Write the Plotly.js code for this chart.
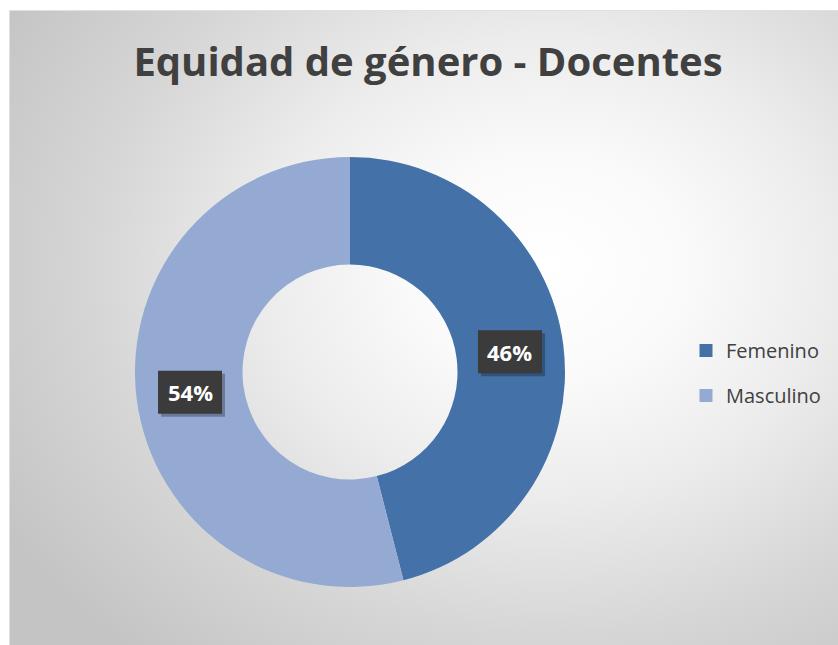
<!DOCTYPE html>
<html>
<head>
<meta charset="utf-8">
<script src="https://cdn.plot.ly/plotly-3.0.1.min.js"></script>
<style>
  html, body { margin: 0; padding: 0; background: #ffffff; }
  #wrap { position: relative; width: 838px; height: 645px; overflow: hidden; }
  #bg { position: absolute; left: 9px; top: 10px; width: 840px; height: 640px;
        border-left: 1px solid #e0e0e0; border-top: 1px solid #e0e0e0;
        background: radial-gradient(ellipse 75% 80% at 64% 40%, #ffffff 0%, #fafafa 22%, #ececec 45%, #d6d6d6 72%, #c4c4c4 100%); }
  #chart { position: absolute; left: 0; top: 0; width: 838px; height: 645px; }
</style>
</head>
<body>
<div id="wrap"><div id="bg"></div><div id="chart"></div></div>
<script>
const categories = ["Femenino", "Masculino"];
const values = [46, 54];
const labelsText = ["46%", "54%"];
const colors = ["#4472a8", "#94aad2"];

const W = 838, H = 645;
const cx = 350, cy = 372, R = 215, hole = 0.5;
const dom = { x: [(cx - R) / W, (cx + R) / W], y: [1 - (cy + R) / H, 1 - (cy - R) / H] };

const total = values.reduce((a, b) => a + b, 0);
const traces = [{
  type: "pie",
  labels: categories,
  values: values,
  sort: false,
  direction: "clockwise",
  rotation: 0,
  hole: hole,
  marker: { colors: colors, line: { width: 0 } },
  textinfo: "none",
  hoverinfo: "label+percent",
  showlegend: false,
  domain: dom
}];
categories.forEach((c, i) => {
  traces.push({
    type: "scatter", mode: "markers", x: [null], y: [null], name: c,
    marker: { symbol: "square", size: 13, color: colors[i] },
    legendgroup: "g" + i, showlegend: true, hoverinfo: "skip"
  });
});

const annotations = [];
const shapes = [];
let acc = 0;
const rMid = R * (1 + hole) / 2;
const boxW = 64, boxH = 43;
values.forEach((v, i) => {
  const mid = (acc + v / 2) / total * 2 * Math.PI;
  acc += v;
  const px = cx + rMid * Math.sin(mid);
  const py = cy - rMid * Math.cos(mid);
  const xa = px / W, ya = 1 - py / H;
  shapes.push({ type: "rect", xref: "paper", yref: "paper", xsizemode: "pixel", ysizemode: "pixel",
    xanchor: xa, yanchor: ya, x0: -boxW / 2 + 3, x1: boxW / 2 + 3, y0: -boxH / 2 - 3, y1: boxH / 2 - 3,
    fillcolor: "rgba(0,0,0,0.28)", line: { width: 0 }, layer: "above" });
  shapes.push({ type: "rect", xref: "paper", yref: "paper", xsizemode: "pixel", ysizemode: "pixel",
    xanchor: xa, yanchor: ya, x0: -boxW / 2, x1: boxW / 2, y0: -boxH / 2, y1: boxH / 2,
    fillcolor: "#3b3b3b", line: { width: 0 }, layer: "above" });
  annotations.push({ x: xa, y: ya, xref: "paper", yref: "paper", showarrow: false,
    text: labelsText[i], xanchor: "center", yanchor: "middle",
    font: { family: "Open Sans, sans-serif", size: 22, color: "#ffffff", weight: "bold" } });
});

const layout = {
  width: W, height: H,
  margin: { l: 0, r: 0, t: 0, b: 0 },
  paper_bgcolor: "rgba(0,0,0,0)",
  plot_bgcolor: "rgba(0,0,0,0)",
  title: { text: "<b>Equidad de género - Docentes</b>", x: 428 / W, xanchor: "center", y: 1 - 62 / H, yanchor: "middle",
           xref: "paper", yref: "container",
           font: { family: "Open Sans, sans-serif", size: 40, color: "#404040" } },
  xaxis: { visible: false, domain: [0.999, 1] },
  yaxis: { visible: false, domain: [0.999, 1] },
  showlegend: true,
  legend: { x: 686 / W, y: 1 - 373 / H, xanchor: "left", yanchor: "middle", bgcolor: "rgba(0,0,0,0)",
            font: { family: "Open Sans, sans-serif", size: 20, color: "#404040" },
            tracegroupgap: 16, itemclick: false },
  shapes: shapes,
  annotations: annotations
};

Plotly.newPlot("chart", traces, layout, { displayModeBar: false, staticPlot: true });
</script>
</body>
</html>
